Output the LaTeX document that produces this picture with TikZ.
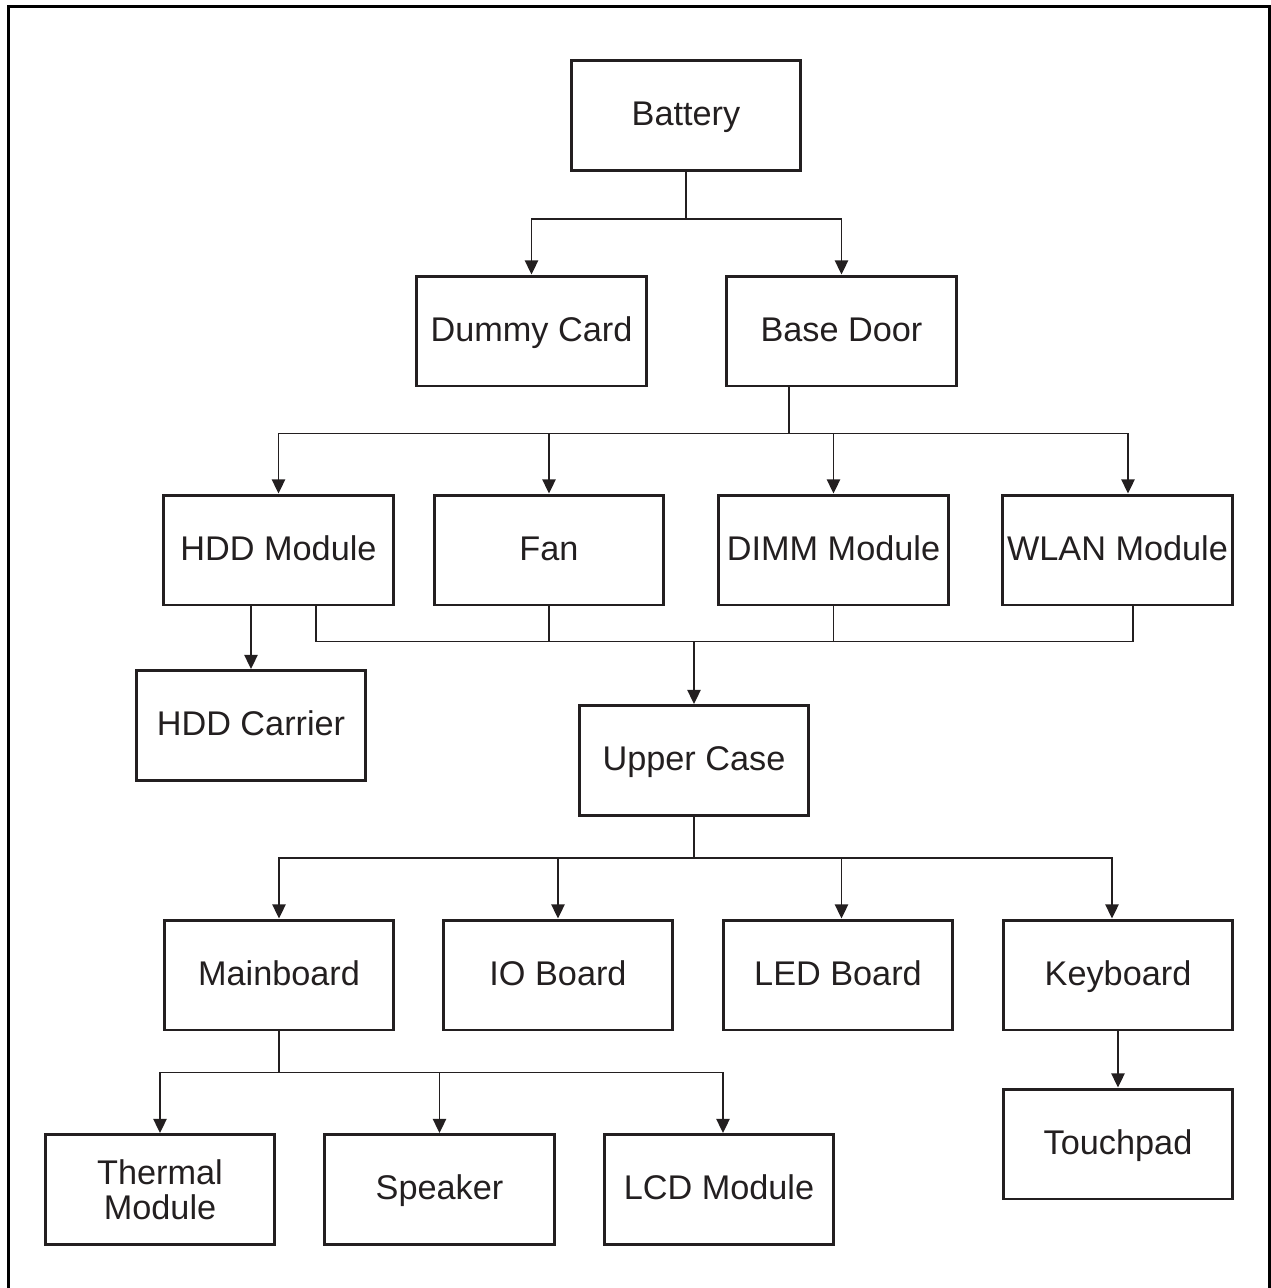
\documentclass[tikz,border=0pt]{standalone}
\usepackage{fontspec}
\setmainfont{Liberation Sans}
\usetikzlibrary{arrows.meta,calc}
\definecolor{Ink}{HTML}{231F20}

\begin{document}
\begin{tikzpicture}[x=0.02cm,y=-0.02cm,
    box/.style={draw=Ink,line width=1.7pt,minimum width=4.6cm,minimum height=2.2cm,inner sep=0pt,
      align=center,text=Ink,font=\fontsize{19.5}{20}\selectfont},
    part/.style={box,text height=14pt,text depth=2.5pt},
    link/.style={draw=Ink,line width=1pt},
    arr/.style={link,-{Triangle[length=8pt,width=7.5pt]}}]
  \useasboundingbox (0,0) rectangle (1271,1288);
  \draw[line width=1.7pt] (8.5,1300) |- (1269.5,6.5) -- (1269.5,1300);
  % parts
  \node[part] (bat) at (686,115.5) {Battery};
  \node[part] (dummy) at (531.5,331) {Dummy Card};
  \node[part] (door) at (841.5,331) {Base Door};
  \node[part] (hdd) at (278.5,550) {HDD Module};
  \node[part] (fan) at (549,550) {Fan};
  \node[part] (dimm) at (833.5,550) {DIMM Module};
  \node[part] (wlan) at (1117.5,550) {WLAN Module};
  \node[part] (carrier) at (251,725.5) {HDD Carrier};
  \node[part] (upper) at (694,760.5) {Upper Case};
  \node[part] (mb) at (279,975) {Mainboard};
  \node[part] (io) at (558,975) {IO Board};
  \node[part] (led) at (838,975) {LED Board};
  \node[part] (kb) at (1118,975) {Keyboard};
  \node[part] (touch) at (1118,1144) {Touchpad};
  \node[box] (thermal) at (160,1189.5) {Thermal\\Module};
  \node[part] (spk) at (439.5,1189.5) {Speaker};
  \node[part] (lcd) at (719,1189.5) {LCD Module};
  % battery
  \draw[link] (bat.south) -- ++(0,47) coordinate (b1);
  \draw[arr] (b1) -| (dummy.north);
  \draw[arr] (b1) -| (door.north);
  % base door
  \draw[link] ([xshift=-1.05cm]door.south) -- ++(0,46) coordinate (d1);
  \draw[arr] (d1) -| (hdd.north);
  \draw[arr] (d1) -| (fan.north);
  \draw[arr] (d1) -| (dimm.north);
  \draw[arr] (d1) -| ([xshift=0.21cm]wlan.north);
  \draw[arr] (hdd.south -| carrier.north) -- (carrier.north);
  % into upper case
  \coordinate (m1) at ($(hdd.south)+(0,35)$);
  \draw[link] ([xshift=0.75cm]hdd.south) |- ([xshift=0.31cm]wlan.south |- m1) -- ([xshift=0.31cm]wlan.south);
  \draw[link] (fan.south) -- (fan.south |- m1);
  \draw[link] (dimm.south) -- (dimm.south |- m1);
  \draw[arr] (m1 -| upper.north) -- (upper.north);
  % upper case
  \draw[link] (upper.south) -- ++(0,41) coordinate (u1);
  \draw[arr] (u1) -| (mb.north);
  \draw[arr] (u1) -| (io.north);
  \draw[arr] (u1) -| ([xshift=0.07cm]led.north);
  \draw[arr] (u1) -| ([xshift=-0.12cm]kb.north);
  % mainboard
  \draw[link] (mb.south) -- ++(0,41) coordinate (mb1);
  \draw[arr] (mb1) -| (thermal.north);
  \draw[arr] (mb1) -| (spk.north);
  \draw[arr] (mb1) -| ([xshift=0.08cm]lcd.north);
  \draw[arr] (kb) -- (touch);
\end{tikzpicture}
\end{document}
